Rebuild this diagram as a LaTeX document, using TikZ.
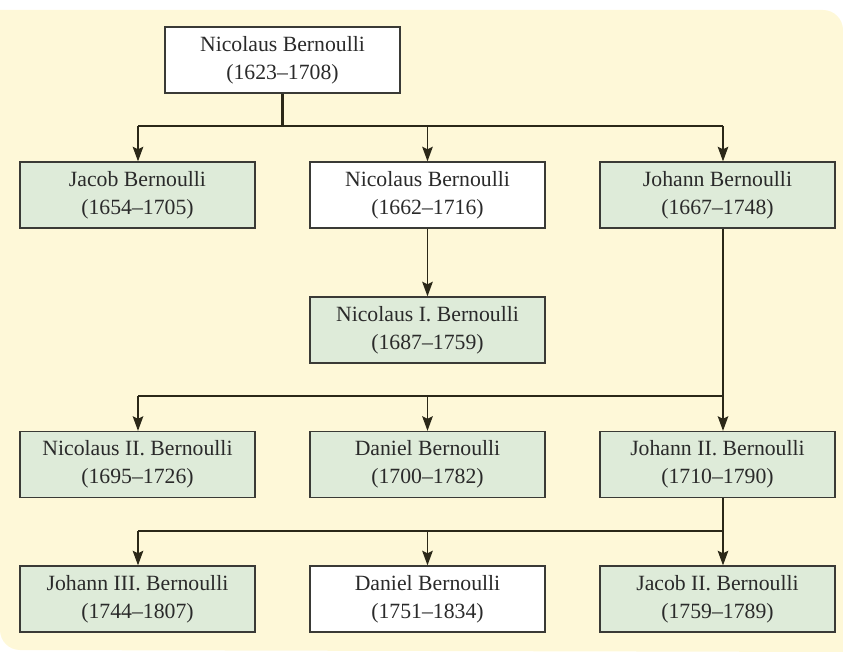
\documentclass[tikz,border=0pt]{standalone}
\usepackage{fontspec}
\setmainfont{Liberation Serif}
\usetikzlibrary{arrows.meta}
\definecolor{bgc}{HTML}{FEF8D8}
\definecolor{greenfill}{HTML}{DEEBD9}
\definecolor{boxline}{HTML}{3A3A36}
\definecolor{txt}{HTML}{2A2A2A}
\definecolor{conn}{HTML}{2B2818}
\tikzset{
  person/.style={draw=boxline, line width=1pt, minimum width=176.25pt, minimum height=49.5pt,
    inner sep=0pt, align=center, text=txt, font=\fontsize{16.3}{21}\selectfont},
  child/.style={person, fill=greenfill},
  other/.style={person, fill=white},
  bus/.style={draw=conn, line width=1pt},
  arr/.style={draw=conn, line width=1pt, -{Stealth[length=11pt,width=8pt,inset=2pt]}},
  stem/.style={draw=conn, line width=1.6pt}
}
\begin{document}
\begin{tikzpicture}[x=0.75pt,y=-0.75pt]
\useasboundingbox (0,0) rectangle (843,652);
\fill[bgc] (0,10) -- (823,10) .. controls (834,10) and (843,19) .. (843,30) -- (843,652)
  -- (20,650) .. controls (9,650) and (0,641) .. (0,630) -- cycle;

\node[other] (n1623) at (282.5,60) {Nicolaus Bernoulli\\(1623–1708)};

\node[child] (jacob) at (137.5,195) {Jacob Bernoulli\\(1654–1705)};
\node[other] (n1662) at (427.5,195) {Nicolaus Bernoulli\\(1662–1716)};
\node[child] (johann) at (717.5,195) {Johann Bernoulli\\(1667–1748)};

\node[child] (nicI) at (427.5,330) {Nicolaus I. Bernoulli\\(1687–1759)};

\node[child] (nicII) at (137.5,464.5) {Nicolaus II. Bernoulli\\(1695–1726)};
\node[child] (daniel) at (427.5,464.5) {Daniel Bernoulli\\(1700–1782)};
\node[child] (johannII) at (717.5,464.5) {Johann II. Bernoulli\\(1710–1790)};

\node[child] (johannIII) at (137.5,599) {Johann III. Bernoulli\\(1744–1807)};
\node[other] (d1751) at (427.5,599) {Daniel Bernoulli\\(1751–1834)};
\node[child] (jacobII) at (717.5,599) {Jacob II. Bernoulli\\(1759–1789)};

% bus coordinates
\coordinate (b1L) at (138,126);
\coordinate (b1R) at (723,126);
\coordinate (b2L) at (138,396);
\coordinate (b2R) at (723,396);
\coordinate (b3L) at (138,531);
\coordinate (b3R) at (723,531);

% generation 1
\draw[stem] (n1623.south) -- (n1623.south |- b1L);
\draw[bus] (b1L) -- (b1R);
\draw[arr] (b1L) -- (b1L |- jacob.north);
\draw[arr] (n1662.north |- b1L) -- (n1662.north);
\draw[arr] (b1R) -- (b1R |- johann.north);

% Nicolaus (1662) -> Nicolaus I.
\draw[arr] (n1662.south) -- (nicI.north);

% Johann -> children
\draw[bus] (b2R |- johann.south) -- (b2R);
\draw[bus] (b2L) -- (b2R);
\draw[arr] (b2L) -- (b2L |- nicII.north);
\draw[arr] (daniel.north |- b2L) -- (daniel.north);
\draw[arr] (b2R) -- (b2R |- johannII.north);

% Johann II -> children
\draw[bus] (b3R |- johannII.south) -- (b3R);
\draw[bus] (b3L) -- (b3R);
\draw[arr] (b3L) -- (b3L |- johannIII.north);
\draw[arr] (d1751.north |- b3L) -- (d1751.north);
\draw[arr] (b3R) -- (b3R |- jacobII.north);
\end{tikzpicture}
\end{document}
